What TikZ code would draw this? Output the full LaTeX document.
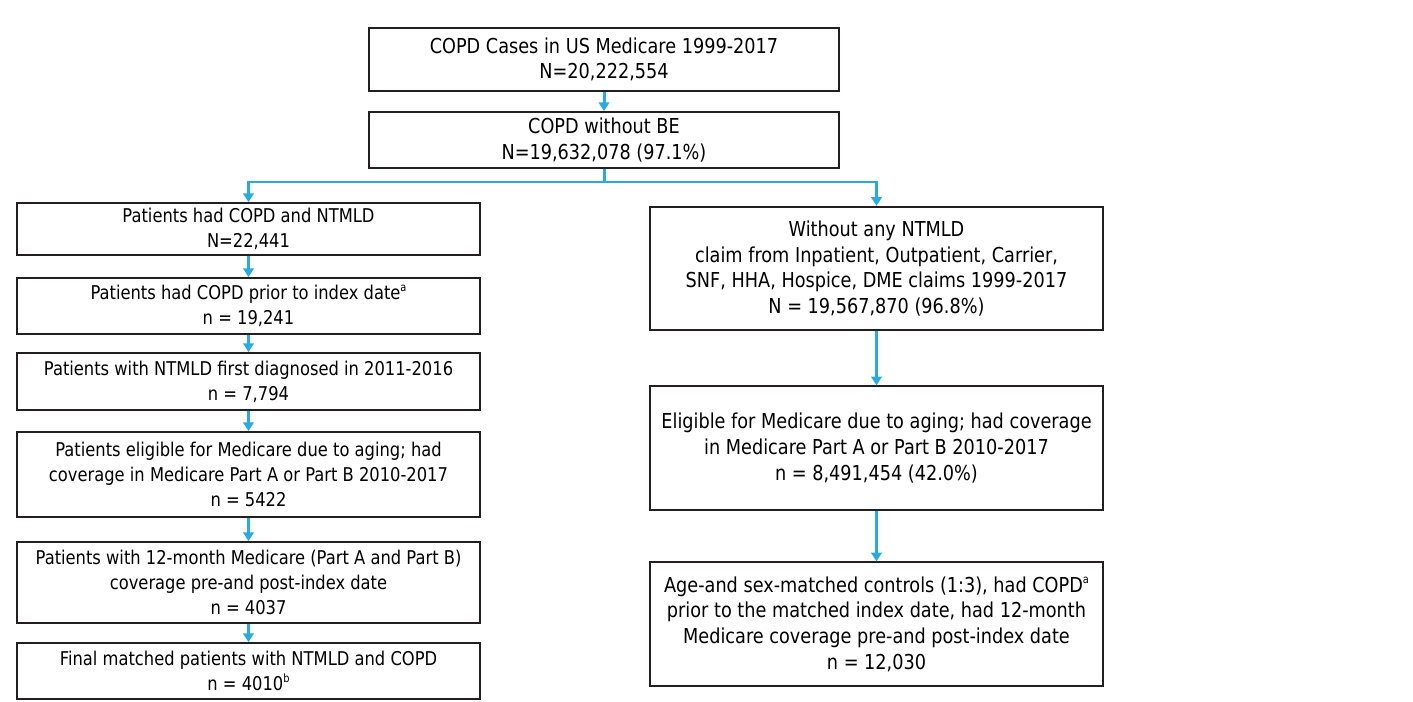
\documentclass[tikz,border=0pt]{standalone}
\usepackage{fontspec}
\setmainfont{DejaVu Sans}[FakeStretch=0.86]
\usetikzlibrary{arrows.meta,positioning}
\definecolor{flowblue}{RGB}{41,171,226}
\definecolor{boxgray}{RGB}{35,31,32}
\newcommand{\sups}[1]{\raisebox{0.75ex}{\fontsize{6.5}{6.5}\selectfont #1}}

\begin{document}
\begin{tikzpicture}[>={Triangle[length=5pt,width=6pt]},
	box/.style={draw=boxgray, line width=1pt, align=center, inner sep=2pt,
		font=\fontsize{11.7}{14.6}\selectfont},
	topbox/.style={box, minimum width=9.4cm},
	casebox/.style={box, minimum width=9.26cm, font=\fontsize{10.8}{14.3}\selectfont},
	ctrlbox/.style={box, minimum width=9.06cm, minimum height=2.47cm},
	flow/.style={draw=flowblue, line width=1.7pt}]
			\useasboundingbox (0,0) rectangle (28.26,14.02);
			% cohort
			\node[topbox, minimum height=1.26cm] (all) at (12.08,12.83) {COPD Cases in US Medicare 1999-2017\\N=20,222,554};
			\node[topbox, minimum height=1.12cm] (nobe) at (12.08,11.22) {COPD without BE\\N=19,632,078 (97.1\%)};
			% NTMLD cases
			\node[casebox, minimum height=1.04cm] (ntm) at (4.97,9.44) {Patients had COPD and NTMLD\\N=22,441};
			\node[casebox, minimum height=1.12cm] (prior) at (4.97,7.90) {Patients had COPD prior to index date\sups{a}\\n = 19,241};
			\node[casebox, minimum height=1.14cm] (first) at (4.97,6.39) {Patients with NTMLD first diagnosed in 2011-2016\\n = 7,794};
			\node[casebox, minimum height=1.7cm] (aging) at (4.97,4.53) {Patients eligible for Medicare due to aging; had\\coverage in Medicare Part A or Part B 2010-2017\\n = 5422};
			\node[casebox, minimum height=1.62cm] (cover) at (4.97,2.37) {Patients with 12-month Medicare (Part A and Part B)\\coverage pre-and post-index date\\n = 4037};
			\node[casebox, minimum height=1.12cm] (final) at (4.97,0.60) {Final matched patients with NTMLD and COPD\\n = 4010\sups{b}};
			% controls
			\node[ctrlbox] (noclaim) at (17.53,8.65) {Without any NTMLD\\claim from Inpatient, Outpatient, Carrier,\\SNF, HHA, Hospice, DME claims 1999-2017\\N = 19,567,870 (96.8\%)};
			\node[ctrlbox] (elig) at (17.53,5.06) {Eligible for Medicare due to aging; had coverage\\in Medicare Part A or Part B 2010-2017\\n = 8,491,454 (42.0\%)};
			\node[ctrlbox] (ctrl) at (17.53,1.54) {Age-and sex-matched controls (1:3), had COPD\sups{a}\\prior to the matched index date, had 12-month\\Medicare coverage pre-and post-index date\\n = 12,030};
			% arrows
			\coordinate (split) at (12.08,10.38);
			\draw[flow,->] (all) -- (nobe);
			\draw[flow] (nobe) -- (split);
			\draw[flow,->] (split) -| (ntm);
			\draw[flow,->] (split) -| (noclaim);
			\draw[flow,->] (ntm) -- (prior);
			\draw[flow,->] (prior) -- (first);
			\draw[flow,->] (first) -- (aging);
			\draw[flow,->] (aging) -- (cover);
			\draw[flow,->] (cover) -- (final);
			\draw[flow,->] (noclaim) -- (elig);
			\draw[flow,->] (elig) -- (ctrl);
\end{tikzpicture}
\end{document}
